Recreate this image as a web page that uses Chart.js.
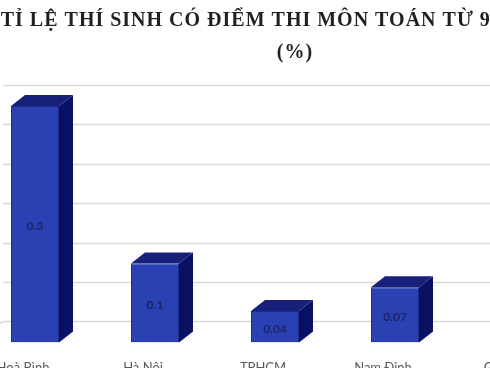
<!DOCTYPE html>
<html>
<head>
<meta charset="utf-8">
<script src="https://cdn.jsdelivr.net/npm/chart.js@4"></script>
<style>
  html, body { margin: 0; padding: 0; background: #fff; overflow: hidden; }
  #wrap { position: absolute; left: -40px; top: 0; width: 670px; height: 400px; }
</style>
</head>
<body>
<div id="wrap"><canvas id="chart" width="670" height="400"></canvas></div>
<script>
// data
const provinces = ['Hoà Bình', 'Hà Nội', 'TPHCM', 'Nam Định', 'Gia Lai'];
const rates = [0.3, 0.1, 0.04, 0.07, null];
const titleLines = ['TỈ LỆ THÍ SINH CÓ ĐIỂM THI MÔN TOÁN TỪ 9 TRỞ LÊN', '(%)'];

// 3D look
const DEPTH_X = 14, DEPTH_Y = 11;    // bar depth
const WALL_X = 27, WALL_Y = 21;      // back wall offset for gridlines

// title drawn by hand so it can use letter spacing
const wideTitle = {
    id: 'wideTitle',
    afterDraw(chart) {
        const { ctx, width } = chart;
        ctx.save();
        ctx.fillStyle = '#231f20';
        ctx.font = 'bold 20px "Liberation Serif", "DejaVu Serif", serif';
        ctx.textAlign = 'center';
        ctx.textBaseline = 'alphabetic';
        ctx.letterSpacing = '1px';
        ctx.fillText(titleLines[0], width / 2 + 2, 26);
        ctx.fillText(titleLines[1], width / 2, 58);
        ctx.restore();
    }
};

const backWall = {
    id: 'backWall',
    beforeDatasetsDraw(chart) {
        const { ctx, chartArea, scales: { y } } = chart;
        ctx.save();
        ctx.strokeStyle = '#d9d9d9';
        ctx.lineWidth = 1.5;
        y.ticks.forEach(t => {
            const py = Math.round(y.getPixelForValue(t.value) - WALL_Y) + 0.5;
            ctx.beginPath();
            ctx.moveTo(chartArea.left + WALL_X + 1, py);
            ctx.lineTo(chartArea.right + WALL_X, py);
            ctx.stroke();
        });
        // floor left edge
        const y0 = y.getPixelForValue(0);
        ctx.beginPath();
        ctx.moveTo(chartArea.left + WALL_X + 1, y0 - WALL_Y);
        ctx.lineTo(chartArea.left + 1, y0);
        ctx.stroke();
        ctx.restore();
    }
};

const bars3d = {
    id: 'bars3d',
    afterDatasetsDraw(chart) {
        const { ctx } = chart;
        const meta = chart.getDatasetMeta(0);
        ctx.save();
        meta.data.forEach((bar, i) => {
            if (rates[i] == null) return;
            const l = bar.x - bar.width / 2, r = bar.x + bar.width / 2;
            const top = bar.y, bottom = bar.base;
            // side
            ctx.fillStyle = '#0a1062';
            ctx.beginPath();
            ctx.moveTo(r, top);
            ctx.lineTo(r + DEPTH_X, top - DEPTH_Y);
            ctx.lineTo(r + DEPTH_X, bottom - DEPTH_Y);
            ctx.lineTo(r, bottom);
            ctx.closePath();
            ctx.fill();
            // top
            ctx.fillStyle = '#18217a';
            ctx.beginPath();
            ctx.moveTo(l, top);
            ctx.lineTo(l + DEPTH_X, top - DEPTH_Y);
            ctx.lineTo(r + DEPTH_X, top - DEPTH_Y);
            ctx.lineTo(r, top);
            ctx.closePath();
            ctx.fill();
            // value label
            ctx.fillStyle = '#1c2366';
            ctx.font = 'bold 12px Lato, "Open Sans", sans-serif';
            ctx.textAlign = 'center';
            ctx.textBaseline = 'middle';
            ctx.fillText(String(rates[i]), bar.x, (top + bottom) / 2 + 2);
        });
        ctx.restore();
    }
};

new Chart(document.getElementById('chart'), {
    type: 'bar',
    data: {
        labels: provinces,
        datasets: [{
            data: rates,
            backgroundColor: '#2941b3',
            borderColor: '#1b2a8c',
            borderWidth: 1,
            barPercentage: 0.4,
            categoryPercentage: 1.0
        }]
    },
    options: {
        responsive: false,
        animation: false,
        layout: { padding: { left: 15, right: 55, top: 106, bottom: 14 } },
        plugins: {
            legend: { display: false },
            tooltip: { enabled: false },
            title: { display: false }
        },
        scales: {
            x: {
                grid: { display: false },
                border: { display: false },
                ticks: {
                    color: '#595959',
                    font: { family: 'Lato, "Open Sans", sans-serif', size: 13 },
                    padding: 10,
                    labelOffset: -12,
                    maxRotation: 0,
                    autoSkip: false
                }
            },
            y: {
                display: false,
                min: 0,
                max: 0.3,
                ticks: { stepSize: 0.05 }
            }
        }
    },
    plugins: [backWall, bars3d, wideTitle]
});
</script>
</body>
</html>
